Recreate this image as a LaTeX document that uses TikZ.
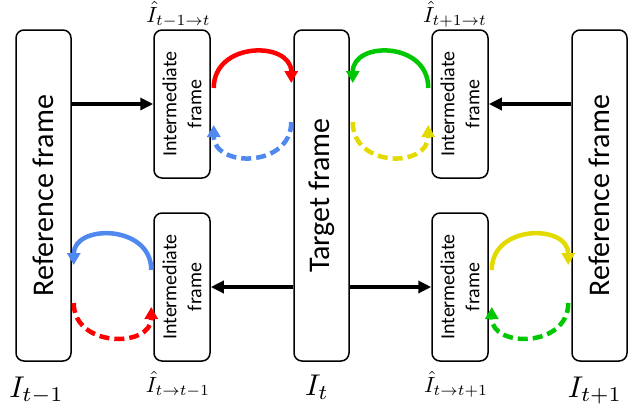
\documentclass[tikz,border=0pt]{standalone}
\usepackage{graphicx}
\usepackage[no-math]{fontspec}
\setmainfont{Carlito}
\usetikzlibrary{arrows.meta,calc}
\definecolor{myblue}{HTML}{4F88EE}
\definecolor{mygreen}{HTML}{00C800}
\definecolor{myyellow}{HTML}{E3DA00}
\definecolor{myred}{HTML}{FF0000}
\begin{document}
\begin{tikzpicture}[x=1pt,y=-1pt,
  box/.style={draw, line width=1.5pt, rounded corners=8pt, inner sep=0pt},
  bigbox/.style={box, minimum width=55pt, minimum height=331pt},
  ibox/.style={box, minimum width=56pt, minimum height=148pt},
  bigtxt/.style={rotate=90, inner sep=0pt, font=\fontsize{30}{36}\selectfont},
  itxt/.style={rotate=90, align=center, inner sep=0pt, font=\fontsize{20}{25}\selectfont},
  flow/.style={line width=4pt, -{Triangle[length=13pt,width=12pt]}},
  cyc/.style={line width=4.5pt, -{Triangle[length=12pt,width=13pt]}},
  dsh/.style={cyc, dash pattern=on 10pt off 5pt},
  hatlab/.style={anchor=base, inner sep=0pt},
  biglab/.style={anchor=base, inner sep=0pt},
]
\useasboundingbox (0,0) rectangle (634,408);

% boxes
\node[bigbox] (r1) at (43.5,195.5) {};
\node[ibox] (i1) at (182,104) {};
\node[bigbox] (t) at (321.5,195.5) {};
\node[ibox] (i2) at (460,104) {};
\node[bigbox] (r2) at (599.5,195.5) {};
\node[ibox] (i3) at (182,287) {};
\node[ibox] (i4) at (460,287) {};

% box texts
\node[bigtxt] (r1t) at (r1.center) {Reference frame};
\node[bigtxt] (tt) at (t.center) {Target frame};
\node[bigtxt] (r2t) at (r2.center) {Reference frame};
\node[itxt] (i1t) at (i1.center) {Intermediate\\frame};
\node[itxt] (i2t) at (i2.center) {Intermediate\\frame};
\node[itxt] (i3t) at (i3.center) {Intermediate\\frame};
\node[itxt] (i4t) at (i4.center) {Intermediate\\frame};

% straight arrows
\draw[flow] (r1.east |- i1.west) -- (i1.west);
\draw[flow] (r2.west |- i2.east) -- (i2.east);
\draw[flow] (t.west |- i3.east) -- (i3.east);
\draw[flow] (t.east |- i4.west) -- (i4.west);

% top-left cycle
\draw[cyc, myred] ($(i1.east)+(3,-16)$) .. controls +(0,-47) and +(0,-42) .. ($(t.west |- i1.east)+(-2,-21)$);
\draw[dsh, myblue] ($(t.west |- i1.east)+(-2,18)$) .. controls +(0,46) and +(0,43) .. ($(i1.east)+(3,21)$);
% top-right cycle
\draw[cyc, mygreen] ($(i2.west)+(-3,-16)$) .. controls +(0,-47) and +(0,-42) .. ($(t.east |- i2.west)+(3,-21)$);
\draw[dsh, myyellow] ($(t.east |- i2.west)+(3,18)$) .. controls +(0,46) and +(0,43) .. ($(i2.west)+(-3,21)$);
% bottom-left cycle
\draw[cyc, myblue] ($(i3.west)+(-2,-17)$) .. controls +(0,-46) and +(0,-41) .. ($(r1.east |- i3.west)+(2,-22)$);
\draw[dsh, myred] ($(r1.east |- i3.west)+(2,16)$) .. controls +(0,45) and +(0,41) .. ($(i3.west)+(-2,20)$);
% bottom-right cycle
\draw[cyc, myyellow] ($(i4.east)+(3,-17)$) .. controls +(0,-46) and +(0,-41) .. ($(r2.west |- i4.east)+(-3,-22)$);
\draw[dsh, mygreen] ($(r2.west |- i4.east)+(-3,16)$) .. controls +(0,45) and +(0,41) .. ($(i4.east)+(3,20)$);

% labels
\node[hatlab] (l1) at (178.5,22) {\scalebox{2.2}{$\hat I_{t-1\to t}$}};
\node[hatlab] (l2) at (455,22) {\scalebox{2.2}{$\hat I_{t+1\to t}$}};
\node[hatlab] (l3) at (178,392) {\scalebox{2.2}{$\hat I_{t\to t-1}$}};
\node[hatlab] (l4) at (456,392) {\scalebox{2.2}{$\hat I_{t\to t+1}$}};
\node[biglab] (b1) at (36.5,397) {\scalebox{3}{$I_{t-1}$}};
\node[biglab] (b2) at (317,395) {\scalebox{3}{$I_{t}$}};
\node[biglab] (b3) at (595,397) {\scalebox{3}{$I_{t+1}$}};
\end{tikzpicture}
\end{document}
